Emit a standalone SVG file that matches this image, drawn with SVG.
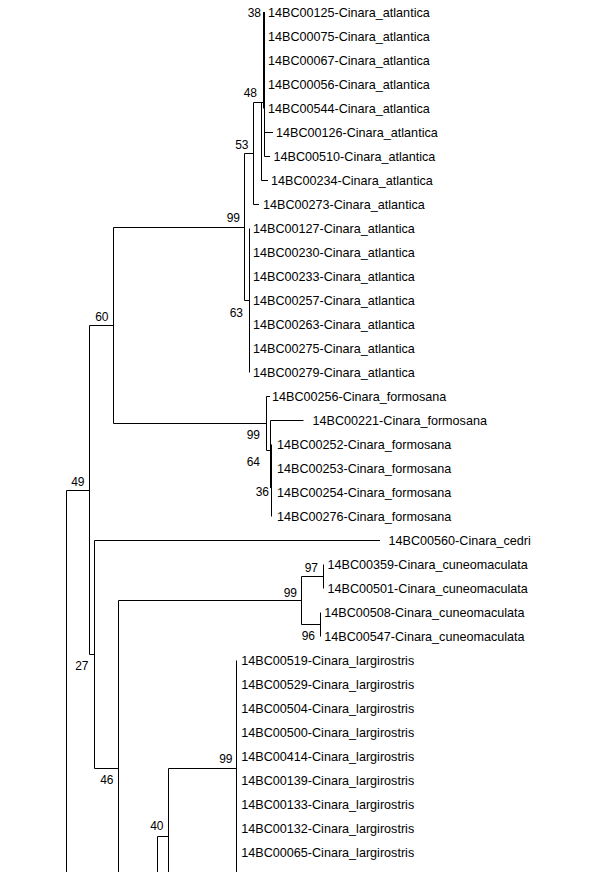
<svg xmlns="http://www.w3.org/2000/svg" width="605" height="872" viewBox="0 0 605 872">
<style>
.b{stroke:#000;stroke-width:1;fill:none}
.t{stroke:#000;stroke-width:2;fill:none}
.leaf{font-family:"Liberation Sans",Arial,sans-serif;font-size:12.6px;fill:#000}
.bs{font-family:"Liberation Sans",Arial,sans-serif;font-size:12px;fill:#000;text-anchor:end}
</style>
<rect width="605" height="872" fill="#fff"/>
<g id="connectors">
<path class="t" d="M264 12V108.5"/>
<path class="b" d="M264.5 108V156.5M264.5 132.5H273M264.5 156.5H270"/>
<path class="b" d="M261.5 102.5V180.5M253.5 102.5H264M261.5 180.5H268"/>
<path class="b" d="M253.5 102.5V204.5M253.5 204.5H259M244.5 153.5H253.5"/>
<path class="b" d="M244.5 153.5V300.5M244.5 300.5H249.5M249.5 228.5V372.5M113.5 227.5H244.5"/>
<path class="b" d="M113.5 227.5V423.5M113.5 423.5H266.5M89.5 325.5H113.5"/>
<path class="b" d="M266.5 396.5V450.5M266.5 396.5H270M266.5 450.5H270.5M270.5 420.5V480.5M270.5 420.5H303.5M270.5 480.5H271.5M271.5 444.5V516.5"/>
<path class="t" d="M271 446V488"/>
<path class="b" d="M89.5 325.5V654.5M66.5 490.5H89.5M66.5 490.5V872M89.5 654.5H94.5"/>
<path class="b" d="M94.5 540.5V768.5M94.5 540.5H380M94.5 768.5H118.5M118.5 600.5V872M118.5 600.5H301.5"/>
<path class="b" d="M301.5 576.5V624.5M301.5 576.5H323.5M323.5 564.5V588.5M301.5 624.5H320.5M320.5 612.5V636.5"/>
<path class="b" d="M157.5 836.5V872M157.5 836.5H168.5M168.5 768.5V872M168.5 768.5H236.5M236.5 660.5V872"/>
</g>
<g id="leaves">
<g id="n00125"><text class="leaf" x="268" y="17">14BC00125-Cinara_atlantica</text></g>
<g id="n00075"><text class="leaf" x="268" y="41">14BC00075-Cinara_atlantica</text></g>
<g id="n00067"><text class="leaf" x="268" y="65">14BC00067-Cinara_atlantica</text></g>
<g id="n00056"><text class="leaf" x="268" y="89">14BC00056-Cinara_atlantica</text></g>
<g id="n00544"><text class="leaf" x="268" y="113">14BC00544-Cinara_atlantica</text></g>
<g id="n00126"><text class="leaf" x="276" y="137">14BC00126-Cinara_atlantica</text></g>
<g id="n00510"><text class="leaf" x="273.6" y="161">14BC00510-Cinara_atlantica</text></g>
<g id="n00234"><text class="leaf" x="271" y="185">14BC00234-Cinara_atlantica</text></g>
<g id="n00273"><text class="leaf" x="263" y="209">14BC00273-Cinara_atlantica</text></g>
<g id="n00127"><text class="leaf" x="253" y="233">14BC00127-Cinara_atlantica</text></g>
<g id="n00230"><text class="leaf" x="253" y="257">14BC00230-Cinara_atlantica</text></g>
<g id="n00233"><text class="leaf" x="253" y="281">14BC00233-Cinara_atlantica</text></g>
<g id="n00257"><text class="leaf" x="253" y="305">14BC00257-Cinara_atlantica</text></g>
<g id="n00263"><text class="leaf" x="253" y="329">14BC00263-Cinara_atlantica</text></g>
<g id="n00275"><text class="leaf" x="253" y="353">14BC00275-Cinara_atlantica</text></g>
<g id="n00279"><text class="leaf" x="253" y="377">14BC00279-Cinara_atlantica</text></g>
<g id="n00256"><text class="leaf" x="272" y="401">14BC00256-Cinara_formosana</text></g>
<g id="n00221"><text class="leaf" x="312.6" y="425">14BC00221-Cinara_formosana</text></g>
<g id="n00252"><text class="leaf" x="277" y="449">14BC00252-Cinara_formosana</text></g>
<g id="n00253"><text class="leaf" x="277" y="473">14BC00253-Cinara_formosana</text></g>
<g id="n00254"><text class="leaf" x="277" y="497">14BC00254-Cinara_formosana</text></g>
<g id="n00276"><text class="leaf" x="277" y="521">14BC00276-Cinara_formosana</text></g>
<g id="n00560"><text class="leaf" x="388.6" y="545">14BC00560-Cinara_cedri</text></g>
<g id="n00359"><text class="leaf" x="327.6" y="569">14BC00359-Cinara_cuneomaculata</text></g>
<g id="n00501"><text class="leaf" x="327.6" y="593">14BC00501-Cinara_cuneomaculata</text></g>
<g id="n00508"><text class="leaf" x="324.3" y="617">14BC00508-Cinara_cuneomaculata</text></g>
<g id="n00547"><text class="leaf" x="324.3" y="641">14BC00547-Cinara_cuneomaculata</text></g>
<g id="n00519"><text class="leaf" x="241.3" y="665">14BC00519-Cinara_largirostris</text></g>
<g id="n00529"><text class="leaf" x="241.3" y="689">14BC00529-Cinara_largirostris</text></g>
<g id="n00504"><text class="leaf" x="241.3" y="713">14BC00504-Cinara_largirostris</text></g>
<g id="n00500"><text class="leaf" x="241.3" y="737">14BC00500-Cinara_largirostris</text></g>
<g id="n00414"><text class="leaf" x="241.3" y="761">14BC00414-Cinara_largirostris</text></g>
<g id="n00139"><text class="leaf" x="241.3" y="785">14BC00139-Cinara_largirostris</text></g>
<g id="n00133"><text class="leaf" x="241.3" y="809">14BC00133-Cinara_largirostris</text></g>
<g id="n00132"><text class="leaf" x="241.3" y="833">14BC00132-Cinara_largirostris</text></g>
<g id="n00065"><text class="leaf" x="241.3" y="857">14BC00065-Cinara_largirostris</text></g>
<g id="n00063"><text class="leaf" x="241.3" y="881">14BC00063-Cinara_largirostris</text></g>
</g>
<g id="bootstrap">
<g id="b38"><text class="bs" x="261" y="16.5">38</text></g>
<g id="b48"><text class="bs" x="257" y="97">48</text></g>
<g id="b53"><text class="bs" x="248.5" y="148.5">53</text></g>
<g id="b99a"><text class="bs" x="240" y="222">99</text></g>
<g id="b63"><text class="bs" x="243" y="316.5">63</text></g>
<g id="b60"><text class="bs" x="108.5" y="321">60</text></g>
<g id="b99f"><text class="bs" x="260" y="439">99</text></g>
<g id="b64"><text class="bs" x="260" y="466">64</text></g>
<g id="b36"><text class="bs" x="269" y="496">36</text></g>
<g id="b49"><text class="bs" x="84.5" y="485.5">49</text></g>
<g id="b99c"><text class="bs" x="297" y="597">99</text></g>
<g id="b97"><text class="bs" x="318" y="572">97</text></g>
<g id="b96"><text class="bs" x="315" y="640">96</text></g>
<g id="b27"><text class="bs" x="88.5" y="670">27</text></g>
<g id="b46"><text class="bs" x="113.5" y="784">46</text></g>
<g id="b99l"><text class="bs" x="232.5" y="763">99</text></g>
<g id="b40"><text class="bs" x="163.5" y="830">40</text></g>
</g>
</svg>
